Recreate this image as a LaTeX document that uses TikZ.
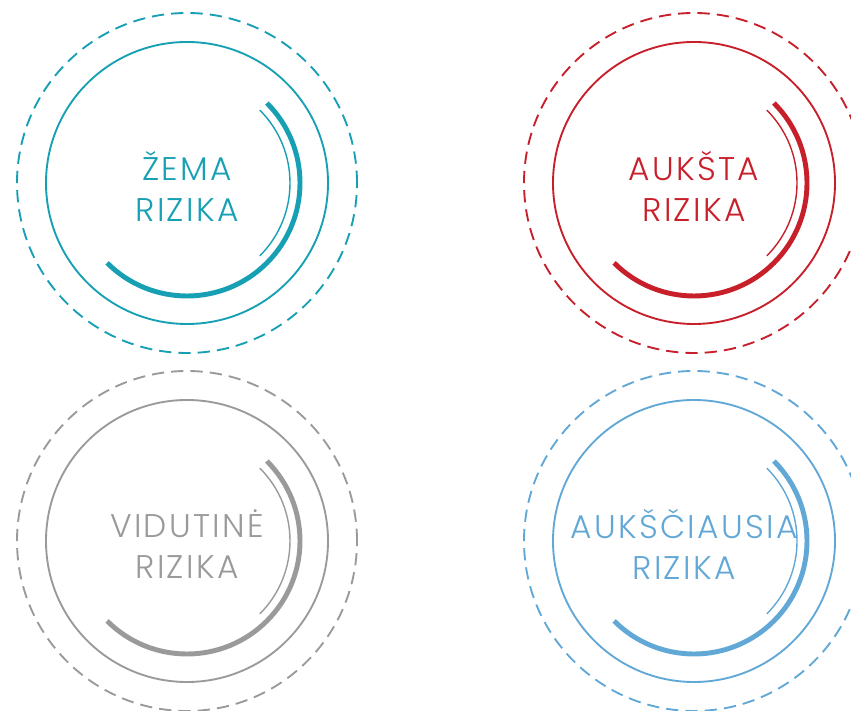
\documentclass[tikz,border=0pt]{standalone}
\usepackage{fontspec}
\IfFontExistsTF{Poppins Light}{\setmainfont{Poppins Light}}{\setmainfont{Poppins}}
\usetikzlibrary{positioning}

\definecolor{zema}{HTML}{17A0B4}
\definecolor{auksta}{HTML}{C8202A}
\definecolor{vidutine}{HTML}{9A9A9A}
\definecolor{auksciausia}{HTML}{62A8D6}

\begin{document}
\begin{tikzpicture}[
		x=0.03cm, y=0.03cm,
		outerring/.style={line width=1.6pt, dash pattern=on 10.5pt off 6pt},
		innerring/.style={line width=1.6pt},
		thickarc/.style={line width=4.2pt},
		thinarc/.style={line width=1.2pt},
		risklabel/.style={align=center, font=\fontsize{28}{35}\selectfont\addfontfeature{LetterSpace=7}},
	]
		\clip (0,0) rectangle (851,711);
		\useasboundingbox (0,0) rectangle (851,711);

		\foreach \name/\cx/\cy/\col/\txt/\dx in {
				low/187/528/zema/{ŽEMA\\RIZIKA}/0,
				high/694/528/auksta/{AUKŠTA\\RIZIKA}/0,
				medium/187/170/vidutine/{VIDUTINĖ\\RIZIKA}/0,
				highest/694/170/auksciausia/{AUKŠČIAUSIA\\RIZIKA}/-10} {
			\coordinate (\name) at (\cx,\cy);
			\draw [outerring, \col] (\name) circle [radius=170];
			\draw [innerring, \col] (\name) circle [radius=141];
			\draw [thickarc, \col] (\name) ++(45:113) arc [start angle=45, end angle=-135, radius=113];
			\draw [thinarc, \col] (\name) ++(45:103) arc [start angle=45, end angle=-45, radius=103];
			\node [risklabel, text=\col, xshift=\dx*0.03cm, yshift=-0.1cm] (\name-label) at (\name) {\txt};
		}
	\end{tikzpicture}
\end{document}
